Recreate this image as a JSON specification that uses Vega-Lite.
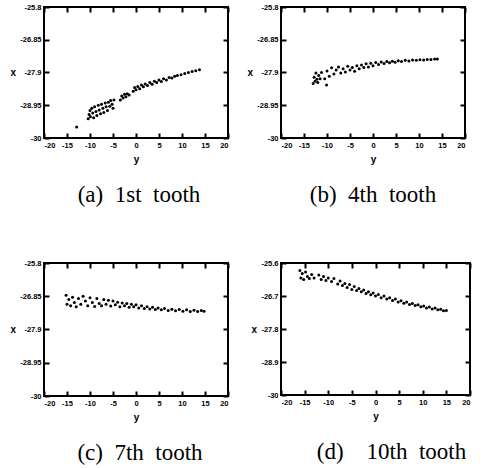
{
  "$schema": "https://vega.github.io/schema/vega-lite/v6.json",
  "padding": {"left": 8, "top": 2, "right": 2, "bottom": 2},
  "background": "white",
  "config": {
    "view": {"stroke": "black", "strokeWidth": 2, "fill": null},
    "axis": {"grid": false, "labelFont": "Liberation Sans", "labelFontSize": 7.5, "labelFontWeight": "bold", "labelColor": "black", "titleFont": "Liberation Sans", "titleFontSize": 10, "titleFontWeight": "bold", "titleColor": "black"},
    "axisLeft": {"titleAngle": 0, "titleAlign": "center", "titleBaseline": "middle", "titlePadding": 7},
    "axisBottom": {"titlePadding": 6},
    "title": {"font": "Liberation Serif", "fontSize": 23, "fontWeight": "normal", "color": "black", "orient": "bottom", "offset": 19}
  },
  "datasets": {
    "a": [
      {"y": -12.9, "x": -29.65},
      {"y": -10.4, "x": -29.38}, {"y": -10.2, "x": -29.25}, {"y": -10.0, "x": -29.12}, {"y": -9.9, "x": -29.32}, {"y": -9.6, "x": -29.05}, {"y": -9.4, "x": -29.2}, {"y": -9.2, "x": -29.35}, {"y": -9.0, "x": -29.0}, {"y": -8.7, "x": -29.15}, {"y": -8.5, "x": -29.28}, {"y": -8.2, "x": -28.95}, {"y": -8.0, "x": -29.1}, {"y": -7.7, "x": -29.22}, {"y": -7.5, "x": -28.92}, {"y": -7.2, "x": -29.05}, {"y": -7.0, "x": -29.18}, {"y": -6.7, "x": -28.88}, {"y": -6.5, "x": -29.0}, {"y": -6.2, "x": -29.12}, {"y": -6.0, "x": -28.85}, {"y": -5.7, "x": -28.98}, {"y": -5.5, "x": -28.8}, {"y": -5.2, "x": -28.92}, {"y": -5.0, "x": -29.05}, {"y": -4.8, "x": -28.78},
      {"y": -3.4, "x": -28.78}, {"y": -3.1, "x": -28.65}, {"y": -2.8, "x": -28.72}, {"y": -2.5, "x": -28.6}, {"y": -2.2, "x": -28.68}, {"y": -1.9, "x": -28.58}, {"y": -1.5, "x": -28.62},
      {"y": -0.6, "x": -28.5}, {"y": -0.3, "x": -28.38}, {"y": 0.0, "x": -28.45}, {"y": 0.4, "x": -28.35}, {"y": 0.8, "x": -28.42}, {"y": 1.2, "x": -28.3}, {"y": 1.6, "x": -28.36}, {"y": 2.0, "x": -28.27}, {"y": 2.5, "x": -28.32}, {"y": 3.0, "x": -28.22}, {"y": 3.5, "x": -28.28}, {"y": 4.0, "x": -28.18}, {"y": 4.5, "x": -28.22}, {"y": 5.0, "x": -28.14}, {"y": 5.5, "x": -28.19}, {"y": 6.0, "x": -28.1}, {"y": 6.6, "x": -28.14}, {"y": 7.2, "x": -28.06}, {"y": 7.8, "x": -28.08}, {"y": 8.4, "x": -28.02}, {"y": 9.0, "x": -28.0}, {"y": 9.8, "x": -27.97}, {"y": 10.6, "x": -27.93}, {"y": 11.4, "x": -27.9}, {"y": 12.2, "x": -27.87}, {"y": 13.0, "x": -27.84}, {"y": 13.8, "x": -27.81}
    ],
    "b": [
      {"y": -13.0, "x": -28.25}, {"y": -12.8, "x": -28.05}, {"y": -12.6, "x": -28.18}, {"y": -12.4, "x": -27.92}, {"y": -12.2, "x": -28.12}, {"y": -12.0, "x": -28.22}, {"y": -11.8, "x": -28.0}, {"y": -11.5, "x": -28.1}, {"y": -11.2, "x": -27.9}, {"y": -10.1, "x": -28.3},
      {"y": -10.5, "x": -28.1}, {"y": -10.0, "x": -27.85}, {"y": -9.5, "x": -28.02}, {"y": -9.0, "x": -27.75}, {"y": -8.5, "x": -27.95}, {"y": -8.0, "x": -27.82}, {"y": -7.5, "x": -27.72}, {"y": -7.0, "x": -27.92}, {"y": -6.5, "x": -27.78}, {"y": -6.0, "x": -27.88}, {"y": -5.5, "x": -27.7}, {"y": -5.0, "x": -27.82}, {"y": -4.5, "x": -27.74}, {"y": -4.0, "x": -27.86}, {"y": -3.5, "x": -27.68}, {"y": -3.0, "x": -27.78}, {"y": -2.5, "x": -27.66}, {"y": -2.0, "x": -27.74}, {"y": -1.5, "x": -27.62}, {"y": -1.0, "x": -27.72}, {"y": -0.5, "x": -27.6}, {"y": 0.0, "x": -27.68}, {"y": 0.6, "x": -27.58}, {"y": 1.2, "x": -27.64}, {"y": 1.8, "x": -27.56}, {"y": 2.4, "x": -27.61}, {"y": 3.0, "x": -27.55}, {"y": 3.6, "x": -27.59}, {"y": 4.2, "x": -27.54}, {"y": 4.8, "x": -27.57}, {"y": 5.5, "x": -27.52}, {"y": 6.2, "x": -27.55}, {"y": 7.0, "x": -27.51}, {"y": 7.8, "x": -27.53}, {"y": 8.6, "x": -27.5}, {"y": 9.4, "x": -27.51}, {"y": 10.2, "x": -27.49}, {"y": 11.0, "x": -27.5}, {"y": 11.8, "x": -27.48}, {"y": 12.6, "x": -27.48}, {"y": 13.4, "x": -27.47}, {"y": 14.0, "x": -27.47}
    ],
    "c": [
      {"y": -15.2, "x": -26.82}, {"y": -15.0, "x": -27.1}, {"y": -14.6, "x": -26.95}, {"y": -14.2, "x": -27.15}, {"y": -13.8, "x": -26.88}, {"y": -13.4, "x": -27.05}, {"y": -13.0, "x": -27.18}, {"y": -12.5, "x": -26.92}, {"y": -12.0, "x": -27.1}, {"y": -11.5, "x": -26.85}, {"y": -11.0, "x": -27.0}, {"y": -10.5, "x": -27.15}, {"y": -10.0, "x": -26.9}, {"y": -9.5, "x": -27.05}, {"y": -9.0, "x": -27.17}, {"y": -8.5, "x": -26.92}, {"y": -8.0, "x": -27.08}, {"y": -7.5, "x": -27.15}, {"y": -7.0, "x": -26.95}, {"y": -6.5, "x": -27.1}, {"y": -6.0, "x": -26.98}, {"y": -5.5, "x": -27.16}, {"y": -5.0, "x": -27.0}, {"y": -4.5, "x": -27.12}, {"y": -4.0, "x": -27.04}, {"y": -3.5, "x": -27.18}, {"y": -3.0, "x": -27.06}, {"y": -2.5, "x": -27.15}, {"y": -2.0, "x": -27.08}, {"y": -1.5, "x": -27.2}, {"y": -1.0, "x": -27.1}, {"y": -0.5, "x": -27.18}, {"y": 0.0, "x": -27.12}, {"y": 0.6, "x": -27.22}, {"y": 1.2, "x": -27.15}, {"y": 1.8, "x": -27.24}, {"y": 2.4, "x": -27.18}, {"y": 3.0, "x": -27.25}, {"y": 3.6, "x": -27.2}, {"y": 4.2, "x": -27.27}, {"y": 4.8, "x": -27.22}, {"y": 5.5, "x": -27.28}, {"y": 6.2, "x": -27.24}, {"y": 7.0, "x": -27.3}, {"y": 7.8, "x": -27.26}, {"y": 8.6, "x": -27.31}, {"y": 9.4, "x": -27.27}, {"y": 10.2, "x": -27.32}, {"y": 11.0, "x": -27.28}, {"y": 11.8, "x": -27.33}, {"y": 12.6, "x": -27.29}, {"y": 13.4, "x": -27.33}, {"y": 14.2, "x": -27.3}, {"y": 14.8, "x": -27.32}
    ],
    "d": [
      {"y": -16.0, "x": -25.85}, {"y": -15.8, "x": -26.1}, {"y": -15.5, "x": -25.95}, {"y": -15.2, "x": -26.15}, {"y": -14.8, "x": -25.9}, {"y": -14.4, "x": -26.05}, {"y": -14.0, "x": -26.12}, {"y": -13.5, "x": -25.98}, {"y": -13.0, "x": -26.1}, {"y": -12.0, "x": -26.0}, {"y": -11.5, "x": -26.15}, {"y": -11.0, "x": -26.05}, {"y": -10.5, "x": -26.18}, {"y": -10.0, "x": -26.1}, {"y": -9.3, "x": -26.22}, {"y": -8.8, "x": -26.12}, {"y": -8.0, "x": -26.3}, {"y": -7.5, "x": -26.2}, {"y": -7.0, "x": -26.35}, {"y": -6.5, "x": -26.28}, {"y": -6.0, "x": -26.42}, {"y": -5.5, "x": -26.32}, {"y": -5.0, "x": -26.48}, {"y": -4.5, "x": -26.38}, {"y": -4.0, "x": -26.52}, {"y": -3.5, "x": -26.45}, {"y": -3.0, "x": -26.56}, {"y": -2.5, "x": -26.5}, {"y": -2.0, "x": -26.62}, {"y": -1.5, "x": -26.56}, {"y": -1.0, "x": -26.66}, {"y": -0.5, "x": -26.6}, {"y": 0.0, "x": -26.7}, {"y": 0.6, "x": -26.65}, {"y": 1.2, "x": -26.76}, {"y": 1.8, "x": -26.7}, {"y": 2.4, "x": -26.8}, {"y": 3.0, "x": -26.76}, {"y": 3.6, "x": -26.85}, {"y": 4.2, "x": -26.8}, {"y": 4.8, "x": -26.9}, {"y": 5.4, "x": -26.86}, {"y": 6.0, "x": -26.94}, {"y": 6.6, "x": -26.9}, {"y": 7.2, "x": -26.98}, {"y": 7.8, "x": -26.95}, {"y": 8.4, "x": -27.02}, {"y": 9.0, "x": -26.99}, {"y": 9.6, "x": -27.06}, {"y": 10.2, "x": -27.03}, {"y": 10.8, "x": -27.1}, {"y": 11.4, "x": -27.07}, {"y": 12.0, "x": -27.13}, {"y": 12.6, "x": -27.1}, {"y": 13.2, "x": -27.16}, {"y": 13.8, "x": -27.14}, {"y": 14.4, "x": -27.19}, {"y": 15.0, "x": -27.18}
    ]
  },
  "columns": 2,
  "bounds": "flush",
  "spacing": {"column": 53, "row": 125},
  "concat": [
    {
      "width": 184, "height": 131,
      "title": {"text": "(a)\u00a0\u00a01st\u00a0\u00a0tooth", "dx": 3},
      "data": {"name": "a"},
      "layer": [
        {"mark": {"type": "circle", "size": 9, "color": "black", "opacity": 1},
         "encoding": {
           "x": {"field": "y", "type": "quantitative", "scale": {"domain": [-20, 20], "nice": false, "zero": false}, "axis": {"values": [-20, -15, -10, -5, 0, 5, 10, 15, 20], "title": "y", "labelExpr": "'' + datum.value", "domain": false, "ticks": true, "tickColor": "black", "tickWidth": 2, "tickSize": 5, "offset": -5, "labelPadding": 3, "zindex": 1}},
           "y": {"field": "x", "type": "quantitative", "scale": {"domain": [-30, -25.8], "nice": false, "zero": false}, "axis": {"values": [-30, -28.95, -27.9, -26.85, -25.8], "title": "x", "labelExpr": "'' + datum.value", "domain": false, "ticks": true, "tickColor": "black", "tickWidth": 2, "tickSize": 5, "offset": -5, "labelPadding": 3, "zindex": 1}}
         }},
        {"mark": {"type": "circle", "opacity": 0},
         "encoding": {
           "x": {"field": "y", "type": "quantitative", "axis": {"orient": "top", "values": [-20, -15, -10, -5, 0, 5, 10, 15, 20], "labels": false, "title": null, "domain": false, "ticks": true, "tickColor": "black", "tickWidth": 2, "tickSize": 5, "offset": -5, "zindex": 1}},
           "y": {"field": "x", "type": "quantitative", "axis": {"orient": "right", "values": [-30, -28.95, -27.9, -26.85, -25.8], "labels": false, "title": null, "domain": false, "ticks": true, "tickColor": "black", "tickWidth": 2, "tickSize": 5, "offset": -5, "zindex": 1}}
         }}
      ],
      "resolve": {"axis": {"x": "independent", "y": "independent"}}
    },
    {
      "width": 184, "height": 131,
      "title": {"text": "(b)\u00a0\u00a04th\u00a0\u00a0tooth", "dx": 0},
      "data": {"name": "b"},
      "layer": [
        {"mark": {"type": "circle", "size": 9, "color": "black", "opacity": 1},
         "encoding": {
           "x": {"field": "y", "type": "quantitative", "scale": {"domain": [-20, 20], "nice": false, "zero": false}, "axis": {"values": [-20, -15, -10, -5, 0, 5, 10, 15, 20], "title": "y", "labelExpr": "'' + datum.value", "domain": false, "ticks": true, "tickColor": "black", "tickWidth": 2, "tickSize": 5, "offset": -5, "labelPadding": 3, "zindex": 1}},
           "y": {"field": "x", "type": "quantitative", "scale": {"domain": [-30, -25.8], "nice": false, "zero": false}, "axis": {"values": [-30, -28.95, -27.9, -26.85, -25.8], "title": "x", "labelExpr": "'' + datum.value", "domain": false, "ticks": true, "tickColor": "black", "tickWidth": 2, "tickSize": 5, "offset": -5, "labelPadding": 3, "zindex": 1}}
         }},
        {"mark": {"type": "circle", "opacity": 0},
         "encoding": {
           "x": {"field": "y", "type": "quantitative", "axis": {"orient": "top", "values": [-20, -15, -10, -5, 0, 5, 10, 15, 20], "labels": false, "title": null, "domain": false, "ticks": true, "tickColor": "black", "tickWidth": 2, "tickSize": 5, "offset": -5, "zindex": 1}},
           "y": {"field": "x", "type": "quantitative", "axis": {"orient": "right", "values": [-30, -28.95, -27.9, -26.85, -25.8], "labels": false, "title": null, "domain": false, "ticks": true, "tickColor": "black", "tickWidth": 2, "tickSize": 5, "offset": -5, "zindex": 1}}
         }}
      ],
      "resolve": {"axis": {"x": "independent", "y": "independent"}}
    },
    {
      "width": 184, "height": 133,
      "title": {"text": "(c)\u00a0\u00a07th\u00a0\u00a0tooth", "dx": 4},
      "data": {"name": "c"},
      "layer": [
        {"mark": {"type": "circle", "size": 9, "color": "black", "opacity": 1},
         "encoding": {
           "x": {"field": "y", "type": "quantitative", "scale": {"domain": [-20, 20], "nice": false, "zero": false}, "axis": {"values": [-20, -15, -10, -5, 0, 5, 10, 15, 20], "title": "y", "labelExpr": "'' + datum.value", "domain": false, "ticks": true, "tickColor": "black", "tickWidth": 2, "tickSize": 5, "offset": -5, "labelPadding": 3, "zindex": 1}},
           "y": {"field": "x", "type": "quantitative", "scale": {"domain": [-30, -25.8], "nice": false, "zero": false}, "axis": {"values": [-30, -28.95, -27.9, -26.85, -25.8], "title": "x", "labelExpr": "'' + datum.value", "domain": false, "ticks": true, "tickColor": "black", "tickWidth": 2, "tickSize": 5, "offset": -5, "labelPadding": 3, "zindex": 1}}
         }},
        {"mark": {"type": "circle", "opacity": 0},
         "encoding": {
           "x": {"field": "y", "type": "quantitative", "axis": {"orient": "top", "values": [-20, -15, -10, -5, 0, 5, 10, 15, 20], "labels": false, "title": null, "domain": false, "ticks": true, "tickColor": "black", "tickWidth": 2, "tickSize": 5, "offset": -5, "zindex": 1}},
           "y": {"field": "x", "type": "quantitative", "axis": {"orient": "right", "values": [-30, -28.95, -27.9, -26.85, -25.8], "labels": false, "title": null, "domain": false, "ticks": true, "tickColor": "black", "tickWidth": 2, "tickSize": 5, "offset": -5, "zindex": 1}}
         }}
      ],
      "resolve": {"axis": {"x": "independent", "y": "independent"}}
    },
    {
      "width": 189, "height": 132,
      "title": {"text": "(d)\u00a0\u00a0\u00a0\u00a010th\u00a0\u00a0tooth", "dx": 16},
      "data": {"name": "d"},
      "layer": [
        {"mark": {"type": "circle", "size": 9, "color": "black", "opacity": 1},
         "encoding": {
           "x": {"field": "y", "type": "quantitative", "scale": {"domain": [-20, 20], "nice": false, "zero": false}, "axis": {"values": [-20, -15, -10, -5, 0, 5, 10, 15, 20], "title": "y", "labelExpr": "'' + datum.value", "domain": false, "ticks": true, "tickColor": "black", "tickWidth": 2, "tickSize": 5, "offset": -5, "labelPadding": 3, "zindex": 1}},
           "y": {"field": "x", "type": "quantitative", "scale": {"domain": [-30, -25.6], "nice": false, "zero": false}, "axis": {"values": [-30, -28.9, -27.8, -26.7, -25.6], "title": "x", "labelExpr": "'' + datum.value", "domain": false, "ticks": true, "tickColor": "black", "tickWidth": 2, "tickSize": 5, "offset": -5, "labelPadding": 3, "zindex": 1}}
         }},
        {"mark": {"type": "circle", "opacity": 0},
         "encoding": {
           "x": {"field": "y", "type": "quantitative", "axis": {"orient": "top", "values": [-20, -15, -10, -5, 0, 5, 10, 15, 20], "labels": false, "title": null, "domain": false, "ticks": true, "tickColor": "black", "tickWidth": 2, "tickSize": 5, "offset": -5, "zindex": 1}},
           "y": {"field": "x", "type": "quantitative", "axis": {"orient": "right", "values": [-30, -28.9, -27.8, -26.7, -25.6], "labels": false, "title": null, "domain": false, "ticks": true, "tickColor": "black", "tickWidth": 2, "tickSize": 5, "offset": -5, "zindex": 1}}
         }}
      ],
      "resolve": {"axis": {"x": "independent", "y": "independent"}}
    }
  ]
}
